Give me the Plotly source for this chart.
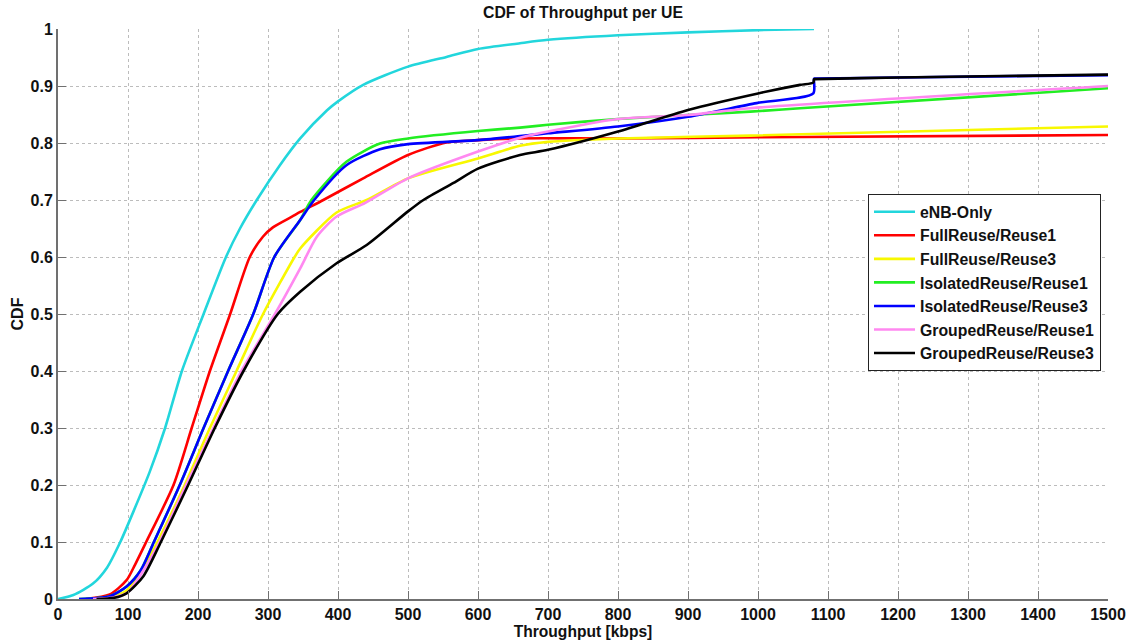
import plotly.graph_objects as go

# ---- data ----
names = ["eNB-Only", "FullReuse/Reuse1", "FullReuse/Reuse3", "IsolatedReuse/Reuse1",
         "IsolatedReuse/Reuse3", "GroupedReuse/Reuse1", "GroupedReuse/Reuse3"]

enb_x = [0, 22, 50, 70, 89, 110, 131, 153, 177, 208, 240, 260, 284, 317, 346, 384, 400, 436, 500, 555, 600, 660, 700, 800, 900, 1000, 1080]
enb_y = [0, 0.007, 0.027, 0.055, 0.1, 0.16, 0.223, 0.3, 0.4, 0.5, 0.6, 0.65, 0.7, 0.761, 0.808, 0.857, 0.873, 0.902, 0.934, 0.951, 0.965, 0.975, 0.981, 0.989, 0.994, 0.998, 1.0]

full1_x = [40, 74, 98, 110, 126, 165, 191, 217, 246, 274, 293, 307, 336, 346, 379, 436, 500, 555, 600, 655, 800, 1000, 1500]
full1_y = [0, 0.008, 0.033, 0.06, 0.1, 0.2, 0.3, 0.4, 0.5, 0.6, 0.636, 0.652, 0.672, 0.679, 0.7, 0.738, 0.779, 0.801, 0.805, 0.808, 0.808, 0.81, 0.814]

full3_x = [45, 78, 98, 120, 142, 181, 217, 255, 293, 338, 346, 398, 441, 500, 600, 660, 700, 800, 989, 1500]
full3_y = [0, 0.004, 0.015, 0.05, 0.1, 0.2, 0.3, 0.4, 0.5, 0.6, 0.615, 0.678, 0.7, 0.738, 0.773, 0.795, 0.802, 0.808, 0.813, 0.829]

iso1_x = [30, 74, 98, 118, 137, 174, 208, 243, 279, 309, 346, 362, 412, 460, 500, 600, 660, 700, 800, 900, 989, 1060, 1500]
iso1_y = [0, 0.005, 0.022, 0.05, 0.1, 0.2, 0.3, 0.4, 0.5, 0.6, 0.665, 0.7, 0.767, 0.799, 0.808, 0.821, 0.827, 0.832, 0.842, 0.849, 0.855, 0.861, 0.896]

iso3_x = [30, 74, 98, 118, 137, 174, 208, 243, 279, 309, 346, 366, 412, 460, 500, 600, 660, 700, 800, 900, 998, 1079, 1080, 1081, 1200, 1500]
iso3_y = [0, 0.005, 0.022, 0.05, 0.1, 0.2, 0.3, 0.4, 0.5, 0.6, 0.665, 0.7, 0.761, 0.789, 0.798, 0.805, 0.812, 0.817, 0.829, 0.846, 0.87, 0.887, 0.913, 0.913, 0.915, 0.919]

grp1_x = [50, 80, 100, 122, 145, 183, 222, 262, 310, 346, 370, 398, 439, 500, 600, 660, 700, 800, 900, 989, 1500]
grp1_y = [0, 0.003, 0.012, 0.05, 0.1, 0.2, 0.3, 0.4, 0.5, 0.58, 0.636, 0.671, 0.695, 0.738, 0.785, 0.809, 0.82, 0.842, 0.849, 0.861, 0.9]

grp3_x = [55, 80, 98, 122, 147, 186, 224, 265, 314, 346, 398, 441, 500, 522, 565, 600, 660, 700, 800, 900, 1000, 1060, 1079, 1080, 1081, 1200, 1500]
grp3_y = [0, 0.002, 0.01, 0.04, 0.1, 0.2, 0.3, 0.4, 0.5, 0.539, 0.589, 0.621, 0.68, 0.7, 0.73, 0.755, 0.779, 0.788, 0.82, 0.858, 0.887, 0.902, 0.906, 0.912, 0.912, 0.915, 0.92]

xs = [enb_x, full1_x, full3_x, iso1_x, iso3_x, grp1_x, grp3_x]
ys = [enb_y, full1_y, full3_y, iso1_y, iso3_y, grp1_y, grp3_y]
colors = ["#22d6dc", "#ff0000", "#f8f800", "#22ee22", "#0000ff", "#ff88f0", "#000000"]

x_ticks = list(range(0, 1501, 100))
y_ticks = [round(i * 0.1, 1) for i in range(11)]
y_ticklabels = ["0"] + [f"{v:.1f}" for v in y_ticks[1:-1]] + ["1"]

FONT = "Liberation Sans"
FS = 16

fig = go.Figure()
for i, (n, x, y, c) in enumerate(zip(names, xs, ys, colors)):
    fig.add_trace(go.Scatter(x=x, y=y, name=n, mode="lines",
                             line=dict(color=c, width=2.6, shape="spline", smoothing=0.7),
                             legendgroup=f"g{i}"))

axis_common = dict(
    showgrid=True, gridcolor="#bcbcbc", griddash="dot", gridwidth=1,
    showline=True, linecolor="#707070", linewidth=2,
    ticks="inside", ticklen=8, tickcolor="#707070", tickwidth=1,
    zeroline=False, mirror=False, automargin=False,
    tickfont=dict(family=FONT, size=FS, color="#111", weight="bold"),
)

fig.update_layout(
    width=1130, height=642,
    margin=dict(l=58, r=22, t=29, b=43),
    paper_bgcolor="white", plot_bgcolor="white",
    title=dict(text="CDF of Throughput per UE", x=(58 + 1108) / 2 / 1130, xanchor="center",
               y=1 - 12 / 642, yanchor="middle",
               font=dict(family=FONT, size=15.8, color="#111", weight="bold")),
    xaxis=dict(range=[0, 1500], tickvals=x_ticks,
               title=dict(text="Throughput [kbps]", standoff=0,
                          font=dict(family=FONT, size=15.6, color="#111", weight="bold")),
               **axis_common),
    yaxis=dict(range=[0, 1], tickvals=y_ticks, ticktext=y_ticklabels,
               title=dict(text="CDF", standoff=3,
                          font=dict(family=FONT, size=FS, color="#111", weight="bold")),
               **axis_common),
    legend=dict(x=(868 - 58) / 1050, y=(599 - 194) / 570, xanchor="left", yanchor="top",
                bgcolor="white", bordercolor="#222", borderwidth=1,
                traceorder="grouped", tracegroupgap=0, itemwidth=41,
                font=dict(family=FONT, size=15.8, color="#111", weight="bold")),
    showlegend=True,
)

fig.write_html("out.html")
